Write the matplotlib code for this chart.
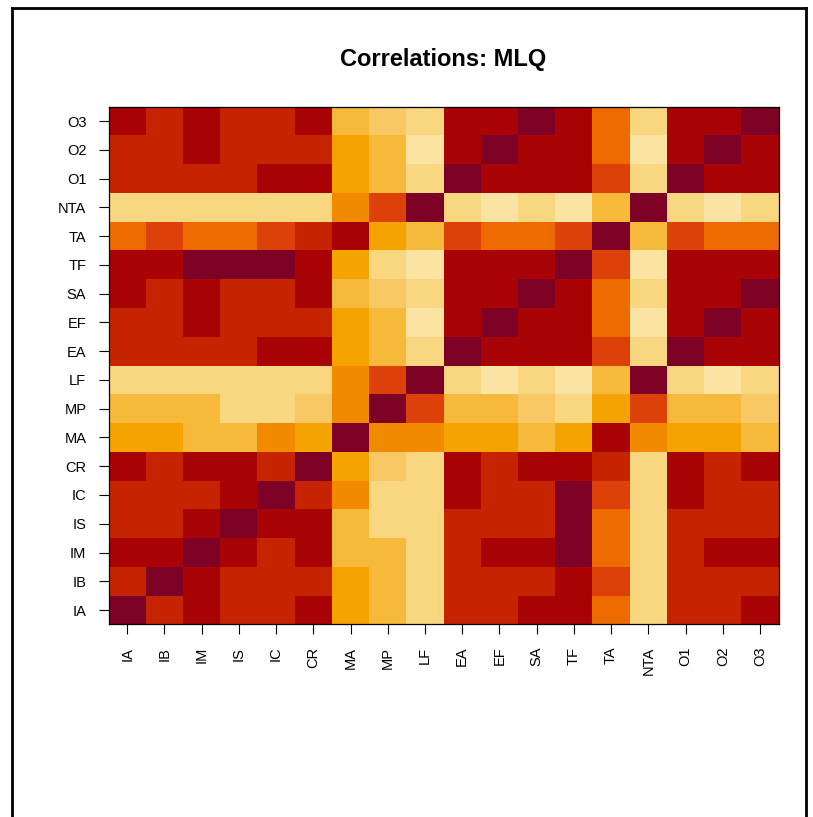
import matplotlib
matplotlib.use("Agg")
import matplotlib.pyplot as plt
from matplotlib.colors import ListedColormap, BoundaryNorm
from matplotlib.lines import Line2D
import numpy as np

plt.rcParams['font.family'] = ['Liberation Sans', 'DejaVu Sans']

# variable names, bottom-to-top on y and left-to-right on x
labels = ["IA", "IB", "IM", "IS", "IC", "CR", "MA", "MP", "LF",
          "EA", "EF", "SA", "TF", "TA", "NTA", "O1", "O2", "O3"]

# colour bin (1 = weakest .. 12 = strongest correlation)
# rows in the same order as labels (IA first = bottom row)
cor_bins = [
    [12, 10, 11, 10, 10, 11, 6, 5, 3, 10, 10, 11, 11, 8, 3, 10, 10, 11],  # IA
    [10, 12, 11, 10, 10, 10, 6, 5, 3, 10, 10, 10, 11, 9, 3, 10, 10, 10],  # IB
    [11, 11, 12, 11, 10, 11, 5, 5, 3, 10, 11, 11, 12, 8, 3, 10, 11, 11],  # IM
    [10, 10, 11, 12, 11, 11, 5, 3, 3, 10, 10, 10, 12, 8, 3, 10, 10, 10],  # IS
    [10, 10, 10, 11, 12, 10, 7, 3, 3, 11, 10, 10, 12, 9, 3, 11, 10, 10],  # IC
    [11, 10, 11, 11, 10, 12, 6, 4, 3, 11, 10, 11, 11, 10, 3, 11, 10, 11],  # CR
    [6, 6, 5, 5, 7, 6, 12, 7, 7, 6, 6, 5, 6, 11, 7, 6, 6, 5],             # MA
    [5, 5, 5, 3, 3, 4, 7, 12, 9, 5, 5, 4, 3, 6, 9, 5, 5, 4],              # MP
    [3, 3, 3, 3, 3, 3, 7, 9, 12, 3, 2, 3, 2, 5, 12, 3, 2, 3],             # LF
    [10, 10, 10, 10, 11, 11, 6, 5, 3, 12, 11, 11, 11, 9, 3, 12, 11, 11],  # EA
    [10, 10, 11, 10, 10, 10, 6, 5, 2, 11, 12, 11, 11, 8, 2, 11, 12, 11],  # EF
    [11, 10, 11, 10, 10, 11, 5, 4, 3, 11, 11, 12, 11, 8, 3, 11, 11, 12],  # SA
    [11, 11, 12, 12, 12, 11, 6, 3, 2, 11, 11, 11, 12, 9, 2, 11, 11, 11],  # TF
    [8, 9, 8, 8, 9, 10, 11, 6, 5, 9, 8, 8, 9, 12, 5, 9, 8, 8],            # TA
    [3, 3, 3, 3, 3, 3, 7, 9, 12, 3, 2, 3, 2, 5, 12, 3, 2, 3],             # NTA
    [10, 10, 10, 10, 11, 11, 6, 5, 3, 12, 11, 11, 11, 9, 3, 12, 11, 11],  # O1
    [10, 10, 11, 10, 10, 10, 6, 5, 2, 11, 12, 11, 11, 8, 2, 11, 12, 11],  # O2
    [11, 10, 11, 10, 10, 11, 5, 4, 3, 11, 11, 12, 11, 8, 3, 11, 11, 12],  # O3
]

# 12-step yellow-orange-red palette, light to dark
palette = ["#FCEFC8", "#FAE3A3", "#F9D680", "#F8C865", "#F6B93A", "#F5A300",
           "#F28A00", "#EC6A00", "#DD4008", "#C62400", "#A80305", "#7D0025"]

z = np.array(cor_bins)
cmap = ListedColormap(palette)
norm = BoundaryNorm(np.arange(0.5, 13.5, 1), cmap.N)

fig = plt.figure(figsize=(8.13, 8.17), dpi=100)
ax = fig.add_axes([0.1335, 0.2357, 0.8242, 0.6338])
ax.pcolormesh(np.arange(len(labels) + 1) - 0.5, np.arange(len(labels) + 1) - 0.5,
              z, cmap=cmap, norm=norm)
ax.set_xlim(-0.5, len(labels) - 0.5)
ax.set_ylim(-0.5, len(labels) - 0.5)

ax.set_xticks(range(len(labels)))
ax.set_xticklabels(labels, rotation=90)
ax.set_yticks(range(len(labels)))
ax.set_yticklabels(labels)
ax.tick_params(length=7, width=0.8, labelsize=10.5, pad=9)
for s in ax.spines.values():
    s.set_linewidth(0.9)

ax.set_title("Correlations: MLQ", fontsize=17, fontweight="bold", pad=29)

# outer frame (left, top, right)
fig.add_artist(Line2D([12 / 813, 12 / 813], [0, 1 - 8 / 817], color="black", lw=2))
fig.add_artist(Line2D([12 / 813, 806 / 813], [1 - 8 / 817, 1 - 8 / 817], color="black", lw=2))
fig.add_artist(Line2D([806 / 813, 806 / 813], [0, 1 - 8 / 817], color="black", lw=2))

fig.savefig("out.png", dpi=100)
